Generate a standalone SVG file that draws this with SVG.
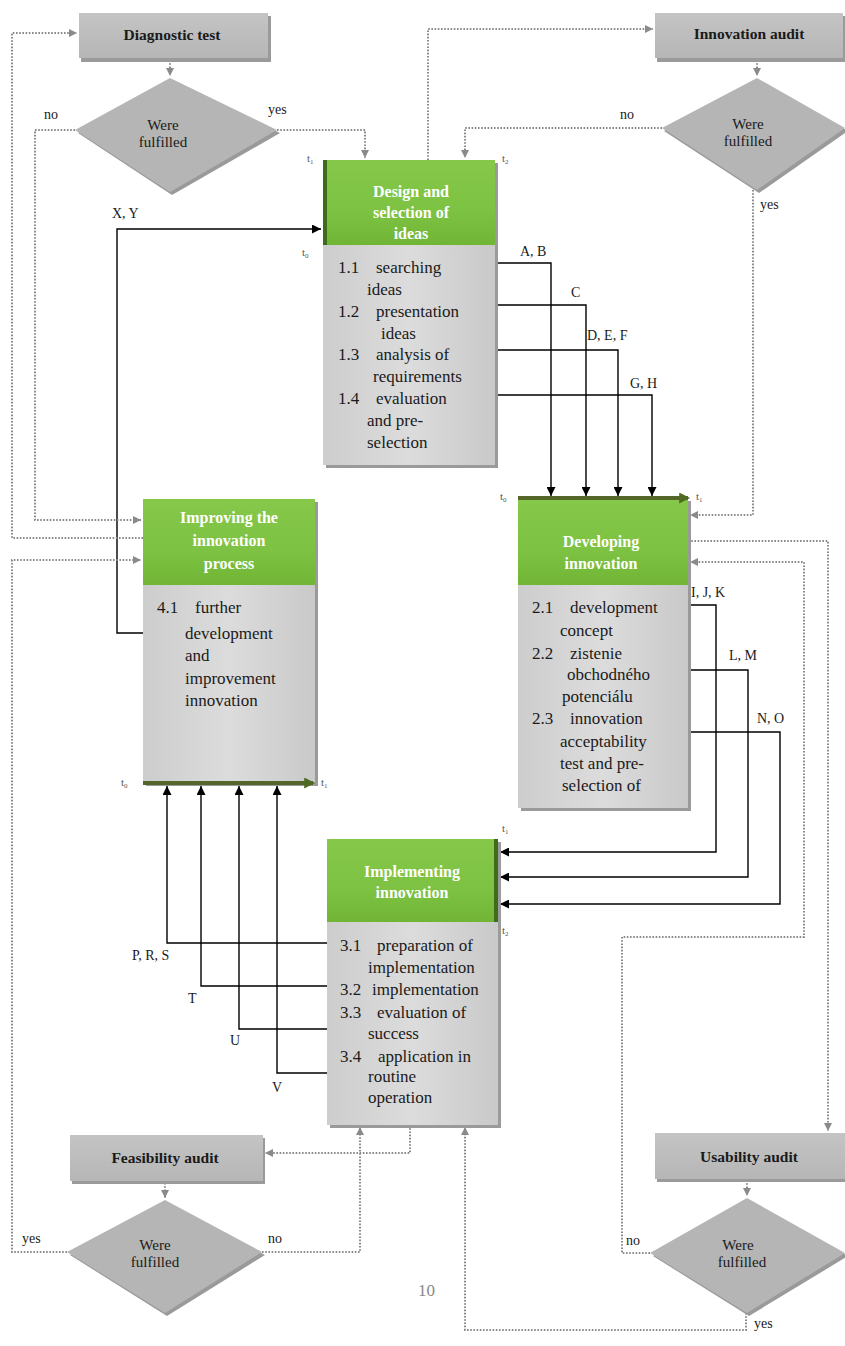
<svg xmlns="http://www.w3.org/2000/svg" width="845" height="1346" viewBox="0 0 845 1346">
<defs>
<linearGradient id="gGreen" x1="0" y1="0" x2="0" y2="1">
<stop offset="0" stop-color="#86c84a"/><stop offset="0.6" stop-color="#7dc242"/><stop offset="1" stop-color="#72b536"/>
</linearGradient>
<linearGradient id="gBody" x1="0" y1="0" x2="1" y2="0">
<stop offset="0" stop-color="#cdcdcd"/><stop offset="0.5" stop-color="#dcdcdc"/><stop offset="1" stop-color="#c9c9c9"/>
</linearGradient>
<linearGradient id="gAudit" x1="0" y1="0" x2="0" y2="1">
<stop offset="0" stop-color="#c4c4c4"/><stop offset="1" stop-color="#b6b6b6"/>
</linearGradient>
<marker id="ab" viewBox="0 0 10 10" refX="10" refY="5" markerWidth="9" markerHeight="9" markerUnits="userSpaceOnUse" orient="auto"><path d="M0,0 L10,5 L0,10 z" fill="#000"/></marker>
<marker id="ag" viewBox="0 0 10 10" refX="10" refY="5" markerWidth="8" markerHeight="8" markerUnits="userSpaceOnUse" orient="auto"><path d="M0,0 L10,5 L0,10 z" fill="#8a8a8a"/></marker>
<marker id="ao" viewBox="0 0 10 10" refX="8" refY="5" markerWidth="11" markerHeight="11" markerUnits="userSpaceOnUse" orient="auto"><path d="M0,0 L10,5 L0,10 z" fill="#4f6a22"/></marker>
</defs>
<style>
.dot{fill:none;stroke:#8a8a8a;stroke-width:2;stroke-dasharray:1.6 1.6}
.sol{fill:none;stroke:#000;stroke-width:1.4}
.olv{fill:none;stroke:#55662a;stroke-width:4}
.shadow{fill:#9a9a9a}
.hdr{fill:url(#gGreen)}
.body{fill:url(#gBody)}
.audit{fill:url(#gAudit)}
.dia{fill:#b5b5b5}
.strip{fill:#3f6b1c}
text{font-family:"Liberation Serif","DejaVu Serif","Times New Roman",serif}
.ht{font-size:16px;font-weight:bold;fill:#ffffff;text-anchor:middle}
.bt{font-size:17px;fill:#1a1a1a}
.at{font-size:15.5px;font-weight:bold;fill:#1a1a1a;text-anchor:middle}
.dt{font-size:15px;fill:#1a1a1a;text-anchor:middle}
.lb{font-size:14px;fill:#1a1a1a}
.tl{font-size:11px;fill:#555555}
.pg{font-size:17px;fill:#888888}
</style>
<rect width="845" height="1346" fill="#ffffff"/>

<g id="connectors">
<path class="sol" d="M143,633 H117 V229 H321" marker-end="url(#ab)"/>
<path class="sol" d="M495,263 H551 V496" marker-end="url(#ab)"/>
<path class="sol" d="M495,305 H586 V496" marker-end="url(#ab)"/>
<path class="sol" d="M495,350 H618 V496" marker-end="url(#ab)"/>
<path class="sol" d="M495,395 H652 V496" marker-end="url(#ab)"/>
<path class="sol" d="M688,605 H716 V852 H500" marker-end="url(#ab)"/>
<path class="sol" d="M688,670 H748 V877 H500" marker-end="url(#ab)"/>
<path class="sol" d="M688,732 H780 V904 H500" marker-end="url(#ab)"/>
<path class="sol" d="M327,943 H167 V786" marker-end="url(#ab)"/>
<path class="sol" d="M327,986 H201 V786" marker-end="url(#ab)"/>
<path class="sol" d="M327,1029 H239 V786" marker-end="url(#ab)"/>
<path class="sol" d="M327,1073 H277 V786" marker-end="url(#ab)"/>
<path class="dot" d="M170,60 V76" marker-end="url(#ag)"/>
<path class="dot" d="M75,130 H35 V520 H141" marker-end="url(#ag)"/>
<path class="dot" d="M277,130 H365 V158" marker-end="url(#ag)"/>
<path class="dot" d="M143,538 H12 V33 H77" marker-end="url(#ag)"/>
<path class="dot" d="M67,1252 H12 V560 H141" marker-end="url(#ag)"/>
<path class="dot" d="M428,160 V29 H653" marker-end="url(#ag)"/>
<path class="dot" d="M757,60 V76" marker-end="url(#ag)"/>
<path class="dot" d="M662,128 H465 V158" marker-end="url(#ag)"/>
<path class="dot" d="M753,190 V515 H690" marker-end="url(#ag)"/>
<path class="dot" d="M688,541 H828 V1131" marker-end="url(#ag)"/>
<path class="dot" d="M650,1253 H622 V937 H804 V562 H690" marker-end="url(#ag)"/>
<path class="dot" d="M747,1180 V1196" marker-end="url(#ag)"/>
<path class="dot" d="M746,1313 V1330 H465 V1127" marker-end="url(#ag)"/>
<path class="dot" d="M410,1125 V1153 H265" marker-end="url(#ag)"/>
<path class="dot" d="M165,1183 V1198" marker-end="url(#ag)"/>
<path class="dot" d="M262,1252 H360 V1127" marker-end="url(#ag)"/>
</g>

<g id="labels">
<text class="lb" x="44" y="119">no</text>
<text class="lb" x="268" y="114">yes</text>
<text class="lb" x="620" y="119">no</text>
<text class="lb" x="760" y="209">yes</text>
<text class="lb" x="22" y="1243">yes</text>
<text class="lb" x="268" y="1243">no</text>
<text class="lb" x="626" y="1245">no</text>
<text class="lb" x="754" y="1328">yes</text>
<text class="lb" x="112" y="218">X, Y</text>
<text class="lb" x="520" y="256">A, B</text>
<text class="lb" x="571" y="297">C</text>
<text class="lb" x="587" y="340">D, E, F</text>
<text class="lb" x="630" y="388">G, H</text>
<text class="lb" x="691" y="597">I, J, K</text>
<text class="lb" x="729" y="660">L, M</text>
<text class="lb" x="757" y="723">N, O</text>
<text class="lb" x="132" y="960">P, R, S</text>
<text class="lb" x="188" y="1003">T</text>
<text class="lb" x="230" y="1045">U</text>
<text class="lb" x="272" y="1092">V</text>
<text class="tl" x="307" y="162">t<tspan font-size="7" dy="2">1</tspan></text>
<text class="tl" x="502" y="162">t<tspan font-size="7" dy="2">2</tspan></text>
<text class="tl" x="302" y="256">t<tspan font-size="7" dy="2">0</tspan></text>
<text class="tl" x="500" y="500">t<tspan font-size="7" dy="2">0</tspan></text>
<text class="tl" x="696" y="500">t<tspan font-size="7" dy="2">1</tspan></text>
<text class="tl" x="121" y="786">t<tspan font-size="7" dy="2">0</tspan></text>
<text class="tl" x="321" y="786">t<tspan font-size="7" dy="2">1</tspan></text>
<text class="tl" x="502" y="832">t<tspan font-size="7" dy="2">1</tspan></text>
<text class="tl" x="502" y="934">t<tspan font-size="7" dy="2">2</tspan></text>
<text class="pg" x="418" y="1296">10</text>
</g>

<g id="diagnostic-test">
<rect class="shadow" x="81" y="16" width="190" height="46"/>
<rect class="audit" x="79" y="13" width="189" height="45"/>
<text class="at" x="172" y="40">Diagnostic test</text>
</g>
<g id="diagnostic-decision">
<polygon points="172,81 280,133 172,195 78,133" fill="#9a9a9a"/>
<polygon class="dia" points="170,78 277,130 170,192 75,130"/>
<text class="dt" x="163" y="130">Were</text>
<text class="dt" x="163" y="147">fulfilled</text>
</g>

<g id="innovation-audit">
<rect class="shadow" x="657" y="16" width="188" height="46"/>
<rect class="audit" x="655" y="13" width="188" height="45"/>
<text class="at" x="749" y="39">Innovation audit</text>
</g>
<g id="innovation-decision">
<polygon points="759,81 848,131 759,193 664,131" fill="#9a9a9a"/>
<polygon class="dia" points="757,78 845,128 757,190 662,128"/>
<text class="dt" x="748" y="129">Were</text>
<text class="dt" x="748" y="146">fulfilled</text>
</g>

<g id="design-selection">
<rect class="shadow" x="326" y="163" width="172" height="305"/>
<rect class="hdr" x="323" y="160" width="172" height="85"/>
<rect class="body" x="323" y="245" width="172" height="220"/>
<rect class="strip" x="323" y="160" width="4" height="85"/>
<text class="ht" x="411" y="197">Design and</text>
<text class="ht" x="411" y="218">selection of</text>
<text class="ht" x="411" y="239">ideas</text>
<text class="bt" x="338" y="273">1.1</text><text class="bt" x="376" y="273">searching</text>
<text class="bt" x="367" y="295">ideas</text>
<text class="bt" x="338" y="317">1.2</text><text class="bt" x="376" y="317">presentation</text>
<text class="bt" x="381" y="339">ideas</text>
<text class="bt" x="338" y="360">1.3</text><text class="bt" x="376" y="360">analysis of</text>
<text class="bt" x="373" y="382">requirements</text>
<text class="bt" x="338" y="404">1.4</text><text class="bt" x="376" y="404">evaluation</text>
<text class="bt" x="367" y="426">and pre-</text>
<text class="bt" x="367" y="448">selection</text>
</g>

<g id="improving-process">
<rect class="shadow" x="146" y="502" width="172" height="284"/>
<rect class="hdr" x="143" y="499" width="172" height="86"/>
<rect class="body" x="143" y="585" width="172" height="197"/>
<text class="ht" x="229" y="523">Improving the</text>
<text class="ht" x="229" y="546">innovation</text>
<text class="ht" x="229" y="569">process</text>
<text class="bt" x="157" y="613">4.1</text><text class="bt" x="195" y="613">further</text>
<text class="bt" x="185" y="639">development</text>
<text class="bt" x="185" y="661">and</text>
<text class="bt" x="185" y="684">improvement</text>
<text class="bt" x="185" y="706">innovation</text>
<path class="olv" d="M143,783 H313" marker-end="url(#ao)"/>
</g>

<g id="developing-innovation">
<rect class="shadow" x="521" y="501" width="170" height="310"/>
<rect class="hdr" x="518" y="498" width="170" height="87"/>
<rect class="body" x="518" y="585" width="170" height="223"/>
<text class="ht" x="601" y="547">Developing</text>
<text class="ht" x="601" y="569">innovation</text>
<text class="bt" x="532" y="613">2.1</text><text class="bt" x="570" y="613">development</text>
<text class="bt" x="560" y="636">concept</text>
<text class="bt" x="532" y="659">2.2</text><text class="bt" x="570" y="659">zistenie</text>
<text class="bt" x="567" y="680">obchodného</text>
<text class="bt" x="562" y="702">potenciálu</text>
<text class="bt" x="532" y="724">2.3</text><text class="bt" x="570" y="724">innovation</text>
<text class="bt" x="560" y="747">acceptability</text>
<text class="bt" x="560" y="769">test and pre-</text>
<text class="bt" x="562" y="791">selection of</text>
<path class="olv" d="M518,498 H688" marker-end="url(#ao)"/>
</g>

<g id="implementing-innovation">
<rect class="shadow" x="330" y="842" width="171" height="286"/>
<rect class="hdr" x="327" y="839" width="171" height="83"/>
<rect class="body" x="327" y="922" width="171" height="203"/>
<rect class="strip" x="494" y="839" width="4" height="83"/>
<text class="ht" x="412" y="877">Implementing</text>
<text class="ht" x="412" y="898">innovation</text>
<text class="bt" x="340" y="951">3.1</text><text class="bt" x="377" y="951">preparation of</text>
<text class="bt" x="368" y="973">implementation</text>
<text class="bt" x="340" y="995">3.2</text><text class="bt" x="372" y="995">implementation</text>
<text class="bt" x="340" y="1018">3.3</text><text class="bt" x="377" y="1018">evaluation of</text>
<text class="bt" x="368" y="1039">success</text>
<text class="bt" x="340" y="1062">3.4</text><text class="bt" x="378" y="1062">application in</text>
<text class="bt" x="368" y="1082">routine</text>
<text class="bt" x="368" y="1103">operation</text>
</g>

<g id="feasibility-audit">
<rect class="shadow" x="72" y="1138" width="193" height="46"/>
<rect class="audit" x="70" y="1135" width="193" height="46"/>
<text class="at" x="165" y="1163">Feasibility audit</text>
</g>
<g id="feasibility-decision">
<polygon points="167,1203 265,1255 167,1316 70,1255" fill="#9a9a9a"/>
<polygon class="dia" points="165,1200 262,1252 165,1313 67,1252"/>
<text class="dt" x="155" y="1250">Were</text>
<text class="dt" x="155" y="1267">fulfilled</text>
</g>

<g id="usability-audit">
<rect class="shadow" x="657" y="1136" width="190" height="46"/>
<rect class="audit" x="655" y="1133" width="190" height="46"/>
<text class="at" x="749" y="1162">Usability audit</text>
</g>
<g id="usability-decision">
<polygon points="749,1201 848,1256 749,1316 653,1256" fill="#9a9a9a"/>
<polygon class="dia" points="747,1198 845,1253 747,1313 650,1253"/>
<text class="dt" x="738" y="1250">Were</text>
<text class="dt" x="742" y="1267">fulfilled</text>
</g>
</svg>
